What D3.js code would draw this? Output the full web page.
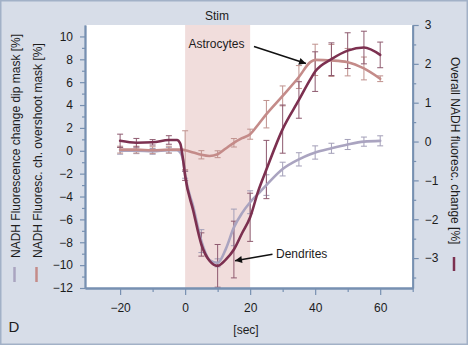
<!DOCTYPE html>
<html>
<head>
<meta charset="utf-8">
<script src="https://cdn.jsdelivr.net/npm/d3@7"></script>
<style>
  html, body { margin: 0; padding: 0; background: #d7dde8; }
  svg { display: block; font-family: "Liberation Sans", Arial, Helvetica, sans-serif; }
</style>
</head>
<body>
<svg id="chart" width="468" height="345"></svg>
<script>
// ---------- data ----------
const lineTimes = [-20, -15, -10, -5, -2.5, -1.5, -0.5, 0, 2.5, 5, 7.5, 10, 12.5, 15, 17.5, 20, 22.5, 25, 30, 35, 38.5, 40, 45, 50, 55, 60];
// NADH fluorescence change, dip mask (left axis, %)
const dipValues = [0.0, 0.0, -0.05, 0.05, 0.05, -0.15, -1.0, -2.1, -4.9, -7.9, -9.55, -9.8, -8.6, -6.7, -5.45, -4.5, -3.75, -3.0, -1.6, -0.75, -0.3, -0.15, 0.22, 0.55, 0.8, 0.87];
// NADH fluoresc. change, overshoot mask (left axis, %)
const overshootValues = [0.1, 0.1, 0.05, 0.1, 0.1, 0.1, 0.08, 0.05, -0.15, -0.35, -0.45, -0.3, 0.2, 0.7, 1.1, 1.45, 2.3, 3.2, 4.8, 6.45, 7.75, 7.95, 7.9, 7.75, 7.2, 6.3];
// Overall NADH fluorescence change (right axis, %)
const overallValues = [0.02, -0.03, -0.02, 0.04, 0.04, -0.05, -0.55, -0.88, -1.78, -2.65, -3.07, -3.2, -3.04, -2.78, -2.36, -1.95, -1.27, -0.72, 0.32, 1.07, 1.6, 1.8, 2.12, 2.34, 2.42, 2.23];

const errTimes = [-20, -15, -10, -5, 0, 5, 10, 15, 20, 25, 30, 35, 40, 45, 50, 55, 60];
const dipErrCenter = [0.0, 0.0, -0.05, 0.05, -2.1, -7.9, -9.8, -6.7, -4.5, -3.0, -1.6, -0.75, -0.15, 0.22, 0.55, 0.8, 0.87];
const dipErr = [0.3, 0.25, 0.25, 0.25, 0.3, 1.0, 0.35, 1.6, 1.0, 0.9, 0.6, 0.58, 0.58, 0.44, 0.44, 0.4, 0.44];
const overshootErrCenter = [0.1, 0.1, 0.05, 0.1, 0.05, -0.35, -0.3, 0.7, 1.45, 3.2, 4.8, 6.45, 7.95, 7.9, 7.75, 7.2, 6.3];
const overshootErr = [0.3, 0.3, 0.3, 0.3, 1.7, 0.36, 0.3, 0.37, 0.44, 1.2, 0.87, 1.0, 1.37, 1.4, 1.2, 1.0, 0.25];
const overallErrCenter = [0.02, -0.03, -0.02, 0.04, -0.88, -2.65, -3.2, -2.78, -1.95, -0.72, 0.32, 1.07, 1.8, 2.12, 2.34, 2.42, 2.23];
const overallErr = [0.17, 0.11, 0.07, 0.11, 0.12, 0.3, 0.55, 0.73, 0.62, 0.75, 0.62, 0.47, 0.51, 0.42, 0.46, 0.42, 0.33];

const stimRange = [0, 20];
const xMajorTicks = [-20, 0, 20, 40, 60];
const xMinorTicks = [-10, 10, 30, 50, 70];
const yLeftMajorTicks = [-12, -10, -8, -6, -4, -2, 0, 2, 4, 6, 8, 10];
const yLeftMinorTicks = [-11, -9, -7, -5, -3, -1, 1, 3, 5, 7, 9];
const yRightMajorTicks = [-3, -2, -1, 0, 1, 2, 3];
const yRightMinorTicks = [-3.5, -2.5, -1.5, -0.5, 0.5, 1.5, 2.5];

const leftLabel1 = "NADH Fluorescence change dip mask [%]";
const leftLabel2 = "NADH Fluoresc. ch. overshoot mask [%]";
const rightLabel = "Overall NADH fluoresc. change [%]";

// ---------- styles ----------
const C = {
  dip: "#aaa4c0", dipBar: "#a39fb8",
  over: "#c48b89", overBar: "#bf918d",
  all: "#7c3050", allBar: "#8e5a6f",
  axis: "#7790b1", stim: "#f1dddc", text: "#1c1c1c"
};

const svg = d3.select("#chart");
const W = 468, H = 345;
const L = 85, R = 412.7, T = 25, B = 288;

svg.append("rect").attr("x", 0.75).attr("y", 0.75).attr("width", W - 1.5).attr("height", H - 1.5)
  .attr("fill", "#d7dde8").attr("stroke", "#a2b1c7").attr("stroke-width", 1.5);

const x = d3.scaleLinear().domain([-30.8, 70]).range([L, R]);
const yL = d3.scaleLinear().domain([-12, 11]).range([B, T]);
const yR = d3.scaleLinear().domain([-3.77, 3]).range([B, T]);

// plot area
svg.append("rect").attr("x", L).attr("y", T).attr("width", R - L).attr("height", B - T).attr("fill", "#ffffff");
svg.append("rect").attr("x", x(stimRange[0])).attr("y", T)
  .attr("width", x(stimRange[1]) - x(stimRange[0])).attr("height", B - T).attr("fill", C.stim);

svg.append("text").attr("x", 217).attr("y", 19.5).attr("text-anchor", "middle")
  .attr("font-size", 12).attr("fill", C.text).text("Stim");

// error bars
function errorBars(centers, errs, yScale, color) {
  const g = svg.append("g").attr("stroke", color).attr("stroke-width", 1).attr("fill", "none");
  errTimes.forEach((t, i) => {
    const cx = x(t), y1 = yScale(centers[i] + errs[i]), y2 = yScale(centers[i] - errs[i]);
    g.append("line").attr("x1", cx).attr("x2", cx).attr("y1", y1).attr("y2", y2);
    g.append("line").attr("x1", cx - 3).attr("x2", cx + 3).attr("y1", y1).attr("y2", y1);
    g.append("line").attr("x1", cx - 3).attr("x2", cx + 3).attr("y1", y2).attr("y2", y2);
  });
}
errorBars(dipErrCenter, dipErr, yL, C.dipBar);
errorBars(overshootErrCenter, overshootErr, yL, C.overBar);
errorBars(overallErrCenter, overallErr, yR, C.allBar);

// lines
function drawLine(values, yScale, color) {
  const line = d3.line().x((d, i) => x(lineTimes[i])).y(d => yScale(d)).curve(d3.curveMonotoneX);
  svg.append("path").datum(values).attr("d", line).attr("fill", "none")
    .attr("stroke", color).attr("stroke-width", 2.6).attr("stroke-linejoin", "round").attr("stroke-linecap", "round");
}
drawLine(dipValues, yL, C.dip);
drawLine(overshootValues, yL, C.over);
drawLine(overallValues, yR, C.all);

// axes
const fmt = d3.format("d");
function styleAxis(g) {
  g.select(".domain").attr("stroke", C.axis).attr("stroke-width", 1.8);
  g.selectAll(".tick line").attr("stroke", C.axis).attr("stroke-width", 1.2);
  g.selectAll(".tick text").attr("fill", C.text).attr("font-size", 12)
    .attr("font-family", "'Liberation Sans', Arial, sans-serif");
}
const gl = svg.append("g").attr("transform", `translate(${L},0)`)
  .call(d3.axisLeft(yL).tickValues(yLeftMajorTicks).tickFormat(fmt).tickSize(5).tickSizeOuter(0).tickPadding(7));
styleAxis(gl);
const glm = svg.append("g").attr("transform", `translate(${L},0)`)
  .call(d3.axisLeft(yL).tickValues(yLeftMinorTicks).tickSize(3).tickSizeOuter(0).tickFormat(""));
styleAxis(glm);

const gr = svg.append("g").attr("transform", `translate(${R},0)`)
  .call(d3.axisRight(yR).tickValues(yRightMajorTicks).tickFormat(fmt).tickSize(6).tickSizeOuter(0).tickPadding(6));
styleAxis(gr);
const grm = svg.append("g").attr("transform", `translate(${R},0)`)
  .call(d3.axisRight(yR).tickValues(yRightMinorTicks).tickSize(3.5).tickSizeOuter(0).tickFormat(""));
styleAxis(grm);

const gb = svg.append("g").attr("transform", `translate(0,${B})`)
  .call(d3.axisBottom(x).tickValues(xMajorTicks).tickFormat(fmt).tickSize(7).tickSizeOuter(0).tickPadding(8));
styleAxis(gb);
const gbm = svg.append("g").attr("transform", `translate(0,${B})`)
  .call(d3.axisBottom(x).tickValues(xMinorTicks).tickSize(4).tickSizeOuter(0).tickFormat(""));
styleAxis(gbm);

// axis titles
svg.append("text").attr("transform", "translate(20,258) rotate(-90)")
  .attr("font-size", 12).attr("fill", C.text).text(leftLabel1);
svg.append("text").attr("transform", "translate(42,258) rotate(-90)")
  .attr("font-size", 12).attr("fill", C.text).text(leftLabel2);
svg.append("line").attr("x1", 14.5).attr("x2", 14.5).attr("y1", 267).attr("y2", 282)
  .attr("stroke", C.dip).attr("stroke-width", 2.5);
svg.append("line").attr("x1", 36.5).attr("x2", 36.5).attr("y1", 267).attr("y2", 282)
  .attr("stroke", C.over).attr("stroke-width", 2.5);

svg.append("text").attr("transform", "translate(450.5,57) rotate(90)")
  .attr("font-size", 12).attr("fill", C.text).text(rightLabel);
svg.append("line").attr("x1", 454).attr("x2", 454).attr("y1", 257).attr("y2", 271)
  .attr("stroke", C.all).attr("stroke-width", 2.5);

svg.append("text").attr("x", 246).attr("y", 334).attr("text-anchor", "middle")
  .attr("font-size", 12).attr("fill", C.text).text("[sec]");
svg.append("text").attr("x", 8.5).attr("y", 332).attr("font-size", 15).attr("fill", C.text).text("D");

// annotations
const defs = svg.append("defs");
defs.append("marker").attr("id", "arr").attr("viewBox", "0 0 10 10").attr("refX", 10).attr("refY", 5)
  .attr("markerWidth", 9).attr("markerHeight", 7).attr("markerUnits", "userSpaceOnUse").attr("orient", "auto")
  .append("path").attr("d", "M0,0 L10,5 L0,10 Z").attr("fill", "#111");

svg.append("text").attr("x", 188.5).attr("y", 48).attr("font-size", 12).attr("fill", C.text).text("Astrocytes");
svg.append("line").attr("x1", 254).attr("y1", 46.5).attr("x2", 306).attr("y2", 63.5)
  .attr("stroke", "#111").attr("stroke-width", 1.5).attr("marker-end", "url(#arr)");

svg.append("text").attr("x", 276).attr("y", 258).attr("font-size", 12).attr("fill", C.text).text("Dendrites");
svg.append("line").attr("x1", 272.5).attr("y1", 254.3).attr("x2", 235).attr("y2", 260.7)
  .attr("stroke", "#111").attr("stroke-width", 1.5).attr("marker-end", "url(#arr)");
</script>
</body>
</html>
